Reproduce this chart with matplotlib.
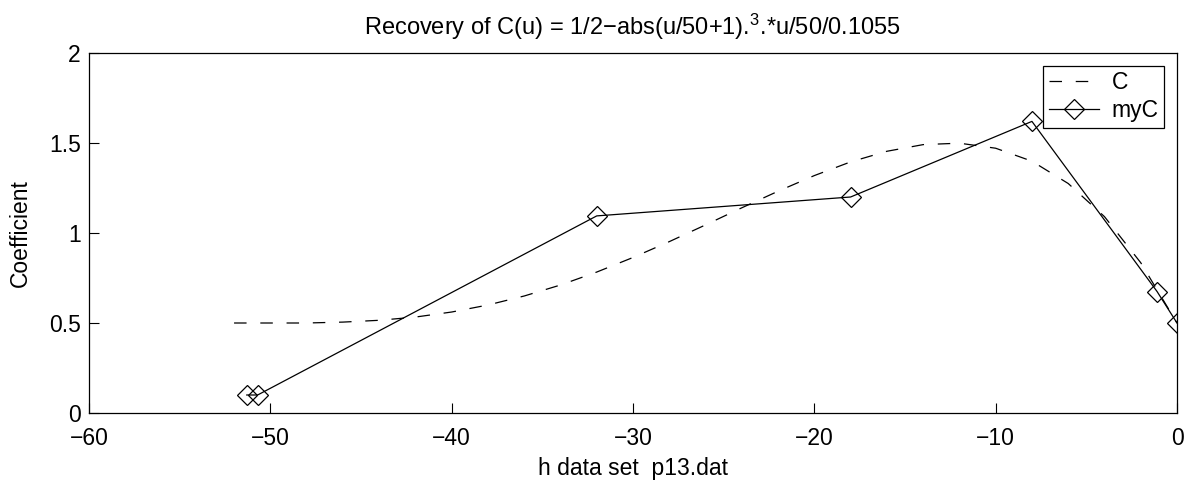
import matplotlib
matplotlib.use("Agg")
import matplotlib.pyplot as plt

plt.rcParams['font.family'] = ['Liberation Sans', 'DejaVu Sans']
plt.rcParams['mathtext.fontset'] = 'custom'
plt.rcParams['mathtext.rm'] = 'Liberation Sans'
plt.rcParams['mathtext.it'] = 'Liberation Sans'

# dashed curve C(u)
u_vals = [-52, -50, -48, -46, -44, -42, -40, -38, -36, -34, -32, -30, -28,
          -26, -24, -22, -20, -18, -16, -14, -12, -10, -8, -6, -4, -2, 0]
c_vals = [0.50, 0.50, 0.50, 0.505, 0.515, 0.533, 0.561, 0.600, 0.650, 0.711,
          0.783, 0.864, 0.952, 1.045, 1.140, 1.232, 1.319, 1.395, 1.454, 1.491,
          1.499, 1.471, 1.399, 1.275, 1.091, 0.835, 0.50]

# recovered coefficients (diamonds)
h_vals = [-51.3, -50.7, -32, -18, -8, -1.1, 0]
myc_vals = [0.10, 0.10, 1.095, 1.20, 1.62, 0.675, 0.50]

fs = 16.5

fig = plt.figure(figsize=(11.9, 4.8), dpi=100)
ax = fig.add_axes([89/1190, 1 - 413/480, (1177-89)/1190, (413-53)/480])

ax.plot(u_vals, c_vals, 'k--', linewidth=0.9, dashes=(10, 11), label='C')
ax.plot(h_vals, myc_vals, 'k-', linewidth=0.9, marker='D', markersize=10,
        markerfacecolor='none', markeredgecolor='k', markeredgewidth=0.9, label='myC')

ax.set_xlim(-60, 0)
ax.set_ylim(0, 2)
ax.set_xticks([-60, -50, -40, -30, -20, -10, 0])
ax.set_yticks([0, 0.5, 1, 1.5, 2])
ax.set_yticklabels(['0', '0.5', '1', '1.5', '2'])
ax.tick_params(direction='in', length=7, labelsize=fs)
ax.tick_params(axis='x', pad=10)
ax.tick_params(axis='y', pad=6)
for s in ax.spines.values():
    s.set_linewidth(0.9)

ax.set_title(r'Recovery of C(u) = 1/2$-$abs(u/50+1).$^{3}$.*u/50/0.1055', fontsize=17, pad=13)
ax.set_xlabel('h data set  p13.dat', fontsize=fs, labelpad=5)
ax.set_ylabel('Coefficient', fontsize=fs, labelpad=12)

leg = ax.legend(loc='upper right', fontsize=fs, frameon=True, fancybox=False,
                edgecolor='k', framealpha=1, borderaxespad=0.55, handlelength=2.2,
                handletextpad=0.55, borderpad=0.25, labelspacing=0.2)
leg.get_frame().set_linewidth(0.9)

fig.savefig('out.png', dpi=100)
